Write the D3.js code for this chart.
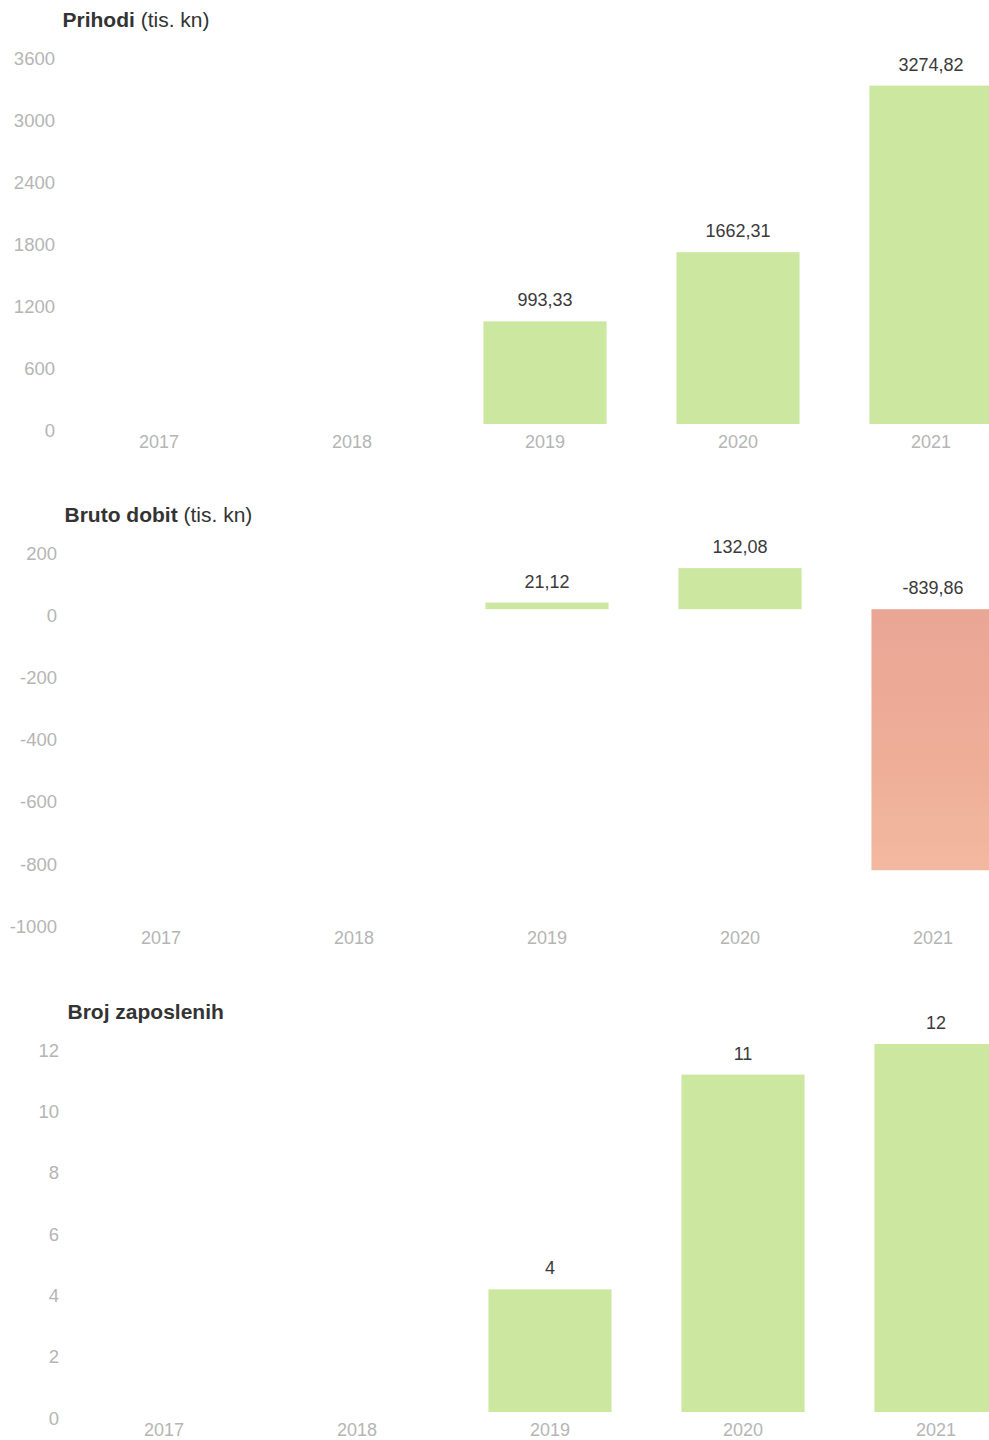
<!DOCTYPE html>
<html>
<head>
<meta charset="utf-8">
<script src="https://cdn.jsdelivr.net/npm/d3@7"></script>
<style>
  body { margin: 0; background: #fff; }
  svg { display: block; font-family: "Liberation Sans", Arial, sans-serif; }
  .tick-label { fill: #b5b5b5; font-size: 18.5px; }
  .year-label { fill: #b5b5b5; font-size: 18px; }
  .value-label { fill: #3a3a3a; font-size: 18px; }
  .title { fill: #333; font-size: 21px; }
</style>
</head>
<body>
<svg id="chart" width="989" height="1440"></svg>
<script>
const years = ["2017", "2018", "2019", "2020", "2021"];

const prihodi = [null, null, 993.33, 1662.31, 3274.82];
const brutoDobit = [null, null, 21.12, 132.08, -839.86];
const brojZaposlenih = [null, null, 4, 11, 12];

const prihodiTicks = [0, 600, 1200, 1800, 2400, 3000, 3600];
const dobitTicks = [-1000, -800, -600, -400, -200, 0, 200];
const zaposleniTicks = [0, 2, 4, 6, 8, 10, 12];

const hr = d3.formatLocale({decimal: ",", thousands: "", grouping: [3], currency: ["", " kn"], minus: "-"});
const fmtDec = hr.format(".2f");
const fmtInt = hr.format("d");

const GREEN = "#cce7a0";

const svg = d3.select("#chart");

const defs = svg.append("defs");
const redGrad = defs.append("linearGradient")
  .attr("id", "redGrad")
  .attr("x1", 0).attr("y1", 0).attr("x2", 0).attr("y2", 1);
redGrad.append("stop").attr("offset", "0%").attr("stop-color", "#eaa695");
redGrad.append("stop").attr("offset", "60%").attr("stop-color", "#eeae98");
redGrad.append("stop").attr("offset", "100%").attr("stop-color", "#f3b9a0");

// one panel per metric
const panels = [
  {title: "Prihodi", unit: " (tis. kn)", values: prihodi, ticks: prihodiTicks,
   top: 52, bottom: 424, left: 62.5, axisX: 55, fmt: fmtDec},
  {title: "Bruto dobit", unit: " (tis. kn)", values: brutoDobit, ticks: dobitTicks,
   top: 547, bottom: 920, left: 64.5, axisX: 57, fmt: fmtDec},
  {title: "Broj zaposlenih", unit: "", values: brojZaposlenih, ticks: zaposleniTicks,
   top: 1044, bottom: 1412, left: 67.5, axisX: 59, fmt: fmtInt}
];

function drawPanel(p) {
  const g = svg.append("g");

  const x = d3.scaleBand()
    .domain(years)
    .range([p.left, p.left + 965])
    .paddingInner(0.362)
    .paddingOuter(0.181);

  const y = d3.scaleLinear()
    .domain(d3.extent(p.ticks))
    .range([p.bottom, p.top]);

  // title
  const title = g.append("text")
    .classed("title", true)
    .attr("x", p.left)
    .attr("y", p.top - 25);
  title.append("tspan").attr("font-weight", "bold").text(p.title);
  title.append("tspan").text(p.unit);

  // y axis labels
  const yAxis = g.append("g")
    .attr("transform", "translate(" + p.axisX + ",0)")
    .call(d3.axisLeft(y).tickValues(p.ticks).tickSize(0).tickPadding(0)
      .tickFormat((d) => d3.format("d")(d).replace("−", "-")));
  yAxis.select(".domain").remove();
  yAxis.selectAll("text")
    .attr("class", "tick-label")
    .attr("fill", null)
    .attr("font-size", null)
    .attr("font-family", null)
    .attr("dy", "0.82em")
    .attr("y", -3);

  // year labels
  const xAxis = g.append("g")
    .attr("transform", "translate(0," + p.bottom + ")")
    .call(d3.axisBottom(x).tickSize(0).tickPadding(11));
  xAxis.select(".domain").remove();
  xAxis.selectAll("text")
    .attr("class", "year-label")
    .attr("fill", null)
    .attr("font-size", null)
    .attr("font-family", null);

  const data = years.map((yr, i) => ({year: yr, value: p.values[i]}))
    .filter((d) => d.value !== null);

  g.selectAll(".bar")
    .data(data)
    .enter()
    .append("rect")
    .classed("bar", true)
    .attr("x", (d) => x(d.year))
    .attr("width", x.bandwidth())
    .attr("y", (d) => y(Math.max(0, d.value)))
    .attr("height", (d) => Math.abs(y(d.value) - y(0)))
    .attr("fill", (d) => d.value < 0 ? "url(#redGrad)" : GREEN);

  g.selectAll(".value-label")
    .data(data)
    .enter()
    .append("text")
    .classed("value-label", true)
    .attr("text-anchor", "middle")
    .attr("x", (d) => x(d.year) + x.bandwidth() / 2)
    .attr("y", (d) => y(Math.max(0, d.value)) - 15)
    .text((d) => p.fmt(d.value));
}

panels.forEach(drawPanel);
</script>
</body>
</html>
